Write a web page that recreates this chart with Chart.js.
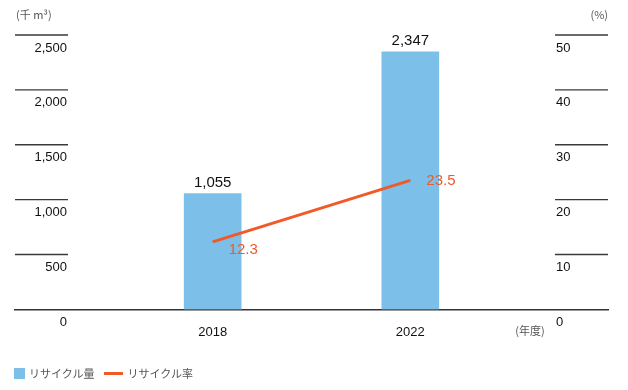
<!DOCTYPE html>
<html>
<head>
<meta charset="utf-8">
<script src="https://cdn.jsdelivr.net/npm/chart.js@4/dist/chart.umd.min.js"></script>
<style>
    body { margin: 0; background: #fff; }
    #wrap { position: relative; width: 628px; height: 390px; }
    #legend {
        position: absolute; left: 14px; top: 365px;
        font: 11px "Noto Sans CJK JP", sans-serif; color: #555;
        display: flex; align-items: center;
    }
    .box { width: 11px; height: 11px; background: #7cbfe9; margin-right: 4px; }
    .line { width: 19px; height: 3px; background: #f05a28; margin: 0 4px 0 10px; }
</style>
</head>
<body>
<div id="wrap">
    <canvas id="chart" width="628" height="390"></canvas>
    <div id="legend">
        <span class="box"></span><span>リサイクル量</span>
        <span class="line"></span><span>リサイクル率</span>
    </div>
</div>
<script>
const years = ['', '2018', '2022', ''];
const volume = [null, 1055, 2347, null];      // 千m³
const rate = [null, 12.3, 23.5, null];        // %
const leftTicks = [0, 500, 1000, 1500, 2000, 2500];
const rightTicks = [0, 10, 20, 30, 40, 50];

const NUM_FONT = '"Liberation Sans", Arial, sans-serif';
const JP_FONT = '"Noto Sans CJK JP", sans-serif';
const BLUE = '#7cbfe9';
const ORANGE = '#f05a28';

function fmt(v) {
    return v.toLocaleString('en-US');
}

// short tick lines + labels at both sides, units, value labels
const decor = {
    id: 'decor',
    afterDatasetsDraw(chart) {
        const ctx = chart.ctx;
        const area = chart.chartArea;
        const yL = chart.scales.y;
        const yR = chart.scales.y1;
        const seg = 53;

        ctx.save();
        ctx.strokeStyle = '#3a3a3a';
        ctx.lineWidth = 1.3;
        ctx.font = '13px ' + NUM_FONT;
        ctx.fillStyle = '#111';
        ctx.textBaseline = 'middle';

        leftTicks.forEach(v => {
            const y = yL.getPixelForValue(v);
            if (v !== 0) {
                ctx.beginPath();
                ctx.moveTo(area.left, y);
                ctx.lineTo(area.left + seg, y);
                ctx.stroke();
            }
            ctx.textAlign = 'right';
            ctx.fillText(fmt(v), area.left + seg - 1, y + 13);
        });
        rightTicks.forEach(v => {
            const y = yR.getPixelForValue(v);
            if (v !== 0) {
                ctx.beginPath();
                ctx.moveTo(area.right - seg, y);
                ctx.lineTo(area.right, y);
                ctx.stroke();
            }
            ctx.textAlign = 'left';
            ctx.fillText(String(v), area.right - seg + 1, y + 13);
        });

        // units
        ctx.font = '11px ' + JP_FONT;
        ctx.fillStyle = '#555';
        ctx.textAlign = 'left';
        ctx.fillText('(千 m³)', area.left + 1, 15);
        ctx.textAlign = 'right';
        ctx.fillText('(%)', area.right, 15);
        ctx.textAlign = 'center';
        ctx.fillText('(年度)', 530, 331);

        // bar values
        ctx.font = '15px ' + NUM_FONT;
        ctx.fillStyle = '#111';
        ctx.textAlign = 'center';
        chart.getDatasetMeta(1).data.forEach((bar, i) => {
            if (volume[i] == null) return;
            ctx.fillText(fmt(volume[i]), bar.x, bar.y - 11);
        });

        // line values
        const lineOffsets = [0, 8, 0, 0];
        ctx.fillStyle = ORANGE;
        ctx.textAlign = 'left';
        chart.getDatasetMeta(0).data.forEach((pt, i) => {
            if (rate[i] == null) return;
            ctx.fillText(rate[i].toFixed(1), pt.x + 16, pt.y + lineOffsets[i]);
        });
        ctx.restore();
    }
};

new Chart(document.getElementById('chart'), {
    type: 'bar',
    data: {
        labels: years,
        datasets: [
            {
                type: 'line',
                label: 'リサイクル率',
                data: rate,
                yAxisID: 'y1',
                borderColor: ORANGE,
                borderWidth: 3,
                pointRadius: 0,
                spanGaps: false,
                order: 0
            },
            {
                type: 'bar',
                label: 'リサイクル量',
                data: volume,
                yAxisID: 'y',
                backgroundColor: BLUE,
                barThickness: 57,
                order: 1
            }
        ]
    },
    options: {
        responsive: false,
        animation: false,
        layout: { padding: { left: 13, right: 20, top: 35, bottom: 35 } },
        plugins: {
            legend: { display: false },
            tooltip: { enabled: false }
        },
        scales: {
            x: {
                offset: false,
                grid: { display: false, drawTicks: false },
                border: { display: true, color: '#333', width: 1.5 },
                ticks: {
                    padding: 15,
                    color: '#111',
                    font: { size: 13, family: NUM_FONT },
                    autoSkip: false,
                    maxRotation: 0
                }
            },
            y: {
                display: false,
                min: 0,
                max: 2500
            },
            y1: {
                display: false,
                position: 'right',
                min: 0,
                max: 50
            }
        }
    },
    plugins: [decor]
});
</script>
</body>
</html>
